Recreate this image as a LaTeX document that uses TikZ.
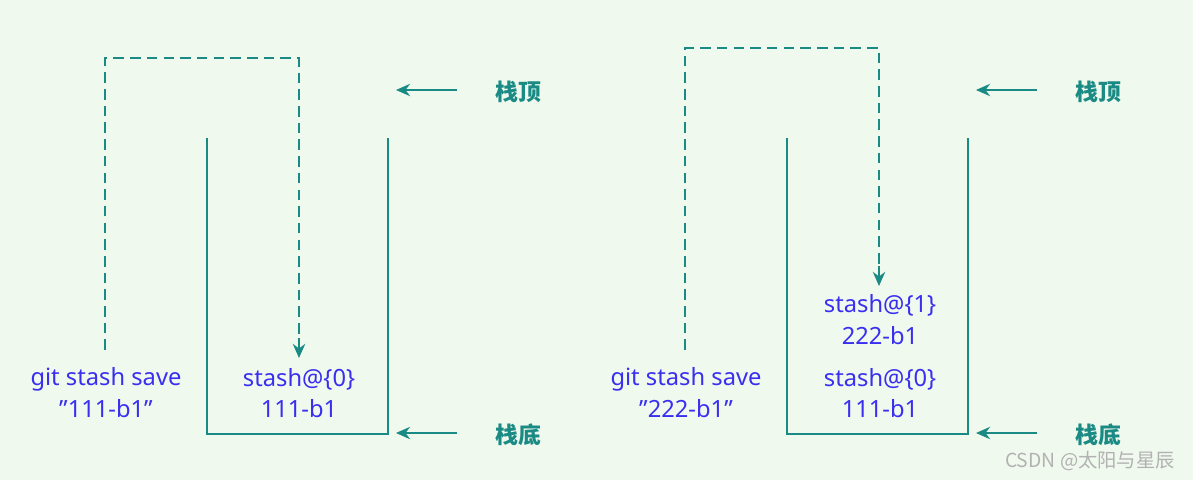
\documentclass[tikz,border=0pt]{standalone}
\usepackage{fontspec}
\setmainfont{Noto Sans}
\newfontfamily\cjk{Noto Sans CJK SC}
\usetikzlibrary{arrows.meta}
\definecolor{bg}{HTML}{F0F9EE}
\definecolor{teal1}{HTML}{1A8A84}
\definecolor{txtb}{HTML}{3A2FF0}
\newcommand{\dq}{\symbol{34}}
\tikzset{
 lbl/.style={text=txtb,font=\fontsize{13.5}{16}\selectfont,inner sep=0pt},
 side/.style={text=teal1,font=\cjk\bfseries\fontsize{13}{15}\selectfont,inner sep=0pt},
 dsh/.style={teal1,line width=1.4pt,dash pattern=on 6pt off 3.5pt},
 box/.style={teal1,line width=1pt},
 arr/.style={teal1,line width=1.4pt,-{Stealth[length=8pt,width=7pt]}},
}
\begin{document}
\begin{tikzpicture}[x=0.02cm,y=-0.02cm]
\fill[bg] (0,0) rectangle (1193,480);
\useasboundingbox (0,0) rectangle (1193,480);
\coordinate (dsL) at (105,350);
\coordinate (dtL) at (299,358);
\coordinate (dsR) at (685,350);
\coordinate (dtR) at (879,286);
% left
\draw[dsh] (dsL) -- (105,58) -- (299,58) -- (299,343);
\draw[arr] (299,338) -- (dtL);
\draw[box] (207,138) -- (207,434) -- (388,434) -- (388,138);
\node[lbl] (g1) at (106,379) {git stash save};
\node[lbl] (g1b) at (106,409) {\dq111-b1\dq};
\node[lbl] (s0) at (299,379) {stash@\{0\}};
\node[lbl] (s0b) at (299,409) {111-b1};
\node[side] (t1) at (518,92) {栈顶};
\node[side] (b1) at (518,435) {栈底};
\coordinate (ta1) at (396,90); \coordinate (ba1) at (396,433);
\draw[arr] (457,90) -- (ta1);
\draw[arr] (457,433) -- (ba1);
% right
\draw[dsh] (dsR) -- (685,48) -- (879,48) -- (879,271);
\draw[arr] (879,266) -- (dtR);
\draw[box] (787,138) -- (787,434) -- (968,434) -- (968,138);
\node[lbl] (g2) at (686,379) {git stash save};
\node[lbl] (g2b) at (686,409) {\dq222-b1\dq};
\node[lbl] (s1) at (880,305) {stash@\{1\}};
\node[lbl] (s1b) at (880,336) {222-b1};
\node[lbl] (s0r) at (880,379) {stash@\{0\}};
\node[lbl] (s0rb) at (880,409) {111-b1};
\node[side] (t2) at (1098,92) {栈顶};
\node[side] (b2) at (1098,435) {栈底};
\coordinate (ta2) at (976,90); \coordinate (ba2) at (976,433);
\draw[arr] (1037,90) -- (ta2);
\draw[arr] (1037,433) -- (ba2);
\node[text=gray!60,font=\cjk\fontsize{11}{13}\selectfont,inner sep=0pt] (wm) at (1090,461) {CSDN @太阳与星辰};
\end{tikzpicture}
\end{document}
